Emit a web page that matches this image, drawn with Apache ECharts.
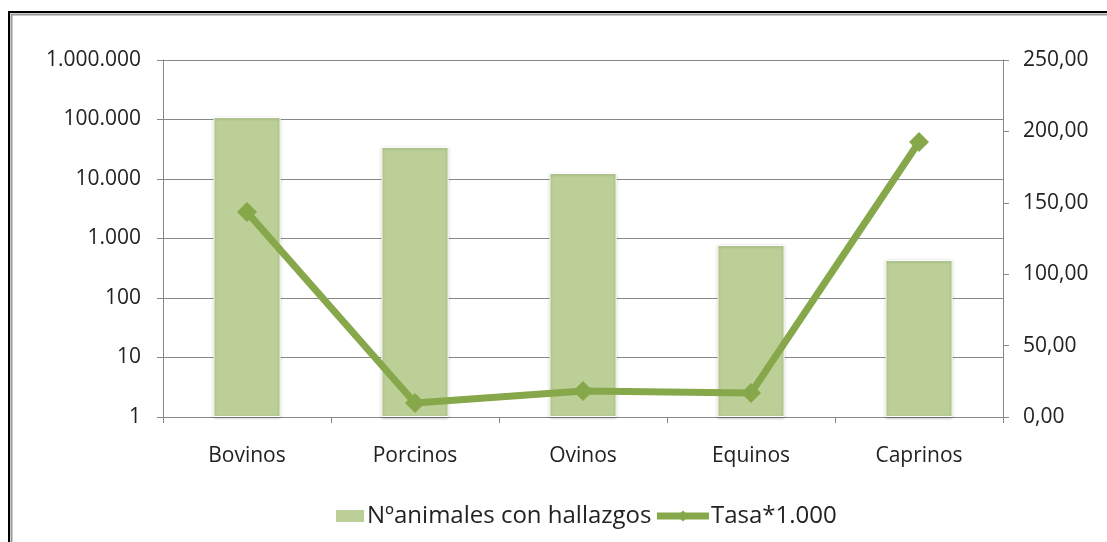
<!DOCTYPE html>
<html>
<head>
<meta charset="utf-8">
<script src="https://cdn.jsdelivr.net/npm/echarts@6/dist/echarts.min.js"></script>
<style>
  html, body { margin: 0; padding: 0; background: #fff; }
  #main { width: 1107px; height: 542px; }
</style>
</head>
<body>
<div id="main"></div>
<script>
var categories = ['Bovinos', 'Porcinos', 'Ovinos', 'Equinos', 'Caprinos'];
var animales = [110000, 34500, 12600, 780, 436];
var tasa = [143.5, 9.8, 18.2, 16.8, 192.6];

var barColor = '#bbcf97';
var lineColor = '#86a74a';
var font = 'Open Sans';

var fmtMiles = function (v) {
    return String(Math.round(v)).replace(/\B(?=(\d{3})+(?!\d))/g, '.');
};
var fmtDec = function (v) {
    return v.toFixed(2).replace('.', ',');
};

var chart = echarts.init(document.getElementById('main'));
var option = {
    animation: false,
    textStyle: { fontFamily: font },
    graphic: [
        { type: 'rect', shape: { x: 9, y: 12, width: 1200, height: 600 },
          style: { fill: 'none', stroke: '#000', lineWidth: 2 } },
        { type: 'rect', shape: { x: 11.5, y: 14.5, width: 1200, height: 600 },
          style: { fill: 'none', stroke: '#999', lineWidth: 2 } }
    ],
    grid: { left: 163, right: 104, top: 60, bottom: 125 },
    legend: {
        bottom: 9,
        left: 307,
        itemGap: 2,
        itemWidth: 52,
        itemHeight: 14,
        textStyle: { fontFamily: font, fontSize: 24, color: '#222', padding: [0, 0, 0, -3] },
        data: [
            { name: 'Nºanimales con hallazgos', icon: 'path://M0,7h0.05v0.05h-0.05z M22,0h30v14h-30z' },
            { name: 'Tasa*1.000', lineStyle: { width: 7 } }
        ]
    },
    xAxis: {
        type: 'category',
        data: categories,
        axisLine: { lineStyle: { color: '#888' } },
        axisTick: { show: true, length: 6, inside: false, lineStyle: { color: '#888' } },
        axisLabel: { fontFamily: font, fontSize: 21, color: '#222', margin: 29 }
    },
    yAxis: [{
        type: 'log',
        logBase: 10,
        min: 1,
        max: 1000000,
        axisLine: { show: true, lineStyle: { color: '#888' } },
        axisTick: { show: true, length: 6, inside: false, lineStyle: { color: '#888' } },
        splitLine: { lineStyle: { color: '#888', width: 1 } },
        axisLabel: { fontFamily: font, fontSize: 21, color: '#222', margin: 22, formatter: fmtMiles }
    }, {
        type: 'value',
        min: 0,
        max: 250,
        interval: 50,
        axisLine: { show: true, lineStyle: { color: '#888' } },
        axisTick: { show: true, length: 6, inside: false, lineStyle: { color: '#888' } },
        splitLine: { show: false },
        axisLabel: { fontFamily: font, fontSize: 21, color: '#222', margin: 20, formatter: fmtDec }
    }],
    series: [{
        name: 'Nºanimales con hallazgos',
        type: 'bar',
        data: animales,
        yAxisIndex: 0,
        barWidth: '40%',
        itemStyle: {
            color: barColor,
            borderColor: '#fff',
            borderWidth: 1,
            shadowColor: 'rgba(0,0,0,0.25)',
            shadowBlur: 3,
            shadowOffsetY: 1
        }
    }, {
        name: 'Tasa*1.000',
        type: 'line',
        data: tasa,
        yAxisIndex: 1,
        symbol: 'diamond',
        symbolSize: 20,
        lineStyle: { color: lineColor, width: 7 },
        itemStyle: { color: lineColor },
        z: 5
    }]
};
chart.setOption(option);
</script>
</body>
</html>
